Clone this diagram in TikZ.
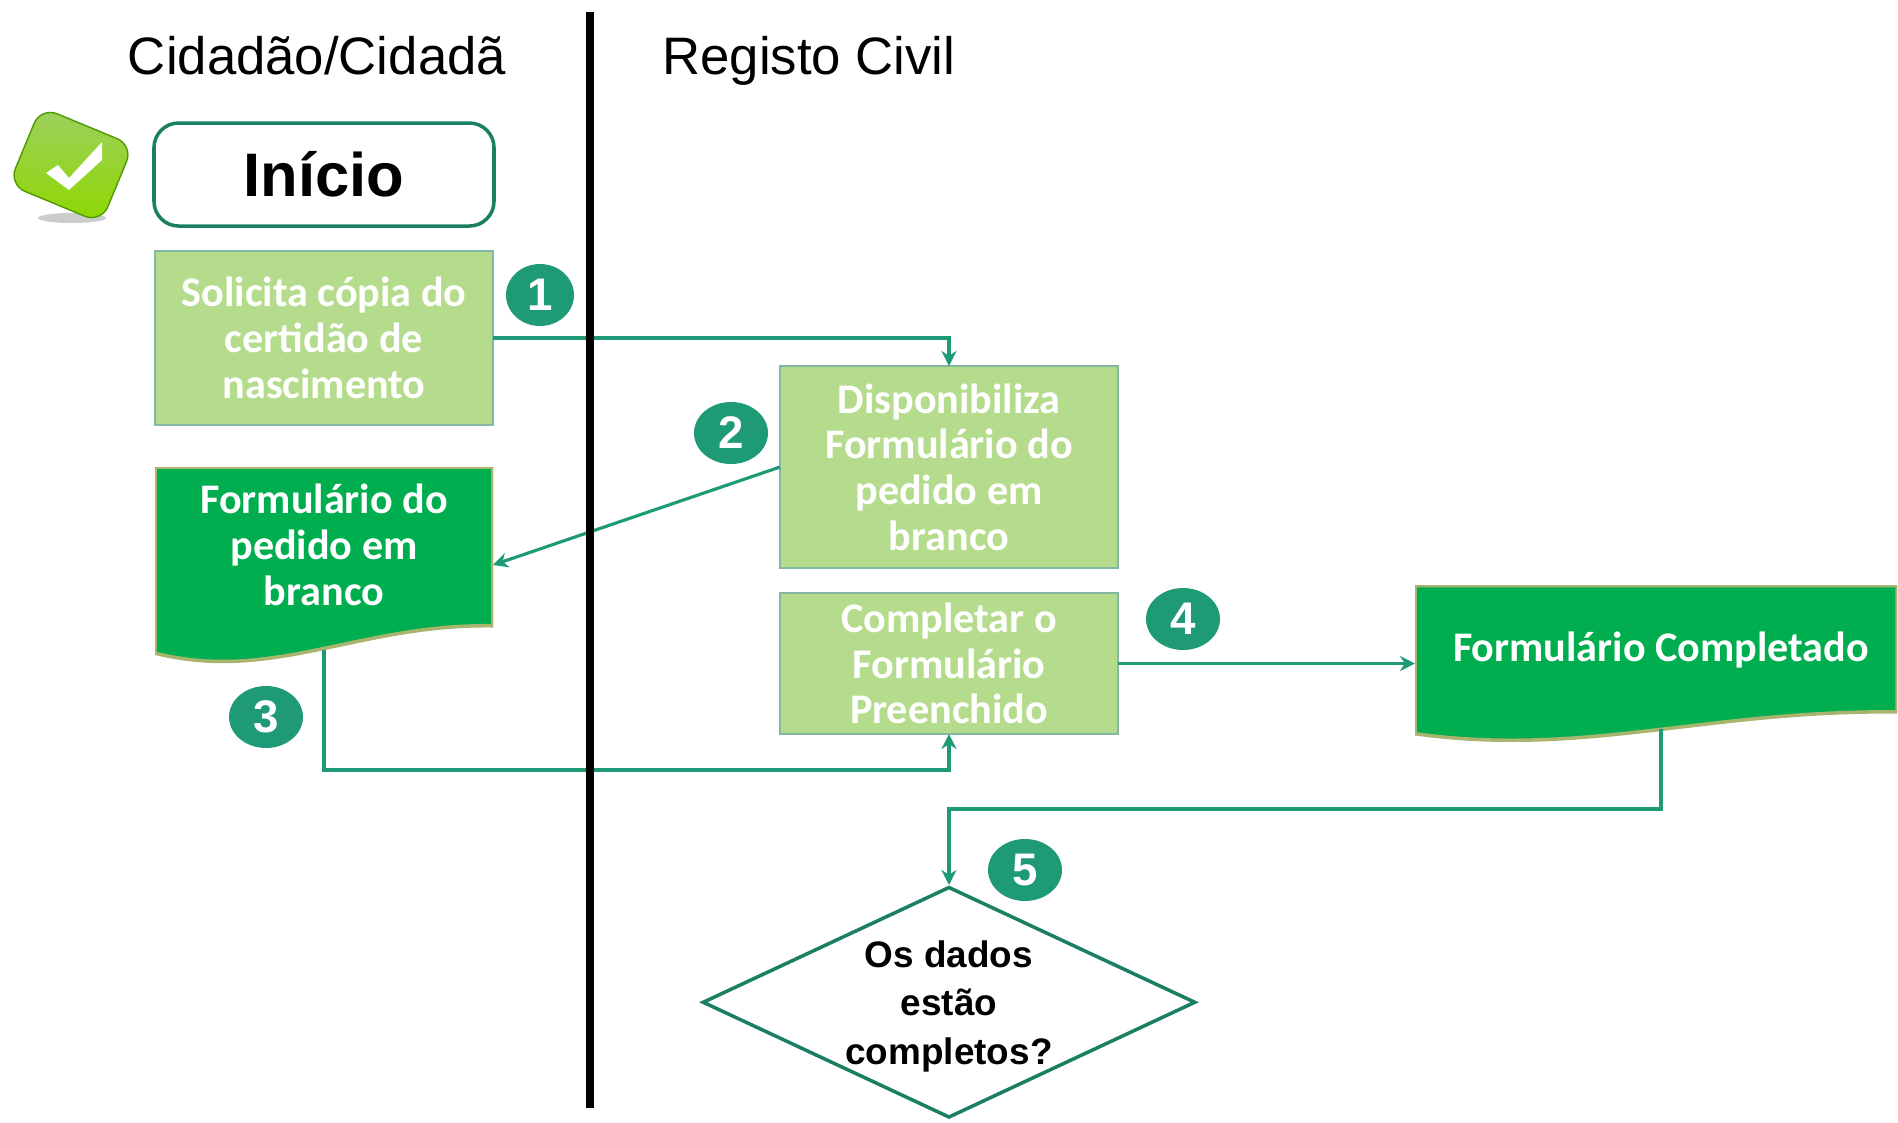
\documentclass[tikz,border=0pt]{standalone}
\usepackage{fontspec}
\setmainfont{Liberation Sans}
\newfontfamily\boxfont{Carlito}
\usetikzlibrary{shapes.geometric, arrows.meta, positioning, calc}
\definecolor{LaneTeal}{HTML}{1B7F64}
\definecolor{StepTeal}{HTML}{1F9A77}
\definecolor{BoxGreen}{HTML}{B5DC8C}
\definecolor{BoxEdge}{HTML}{85B8A2}
\definecolor{DocGreen}{HTML}{00AE4F}
\definecolor{DocEdge}{HTML}{A9B56E}
\definecolor{TickEdge}{HTML}{4F9A00}
\definecolor{TickTop}{HTML}{9CD060}
\definecolor{TickMid}{HTML}{66B800}
\definecolor{TickLow}{HTML}{8FD800}
\tikzset{
  lanebox/.style={draw=BoxEdge, line width=0.7pt, fill=BoxGreen, text=white, font=\boxfont\bfseries\fontsize{12}{13}\selectfont,
    text width=3.38cm, minimum height=1.74cm, align=flush center, inner sep=0pt, outer sep=0pt},
  wavebox/.style={text=white, font=\boxfont\bfseries\fontsize{12}{13}\selectfont, align=flush center, inner sep=0pt, outer sep=0pt,
    path picture={
      \draw[DocEdge, fill=DocGreen, line width=1pt]
        let \p1=(path picture bounding box.north west), \p2=(path picture bounding box.south east),
            \n1={\x2-\x1}, \n2={\y2-\y1} in
        (\x1,\y1) -- (\x2,\y1) -- (\x2,\y1+0.81*\n2)
        .. controls (\x1+0.6*\n1,\y1+0.8*\n2) and (\x1+0.35*\n1,\y1+1.1*\n2) .. (\x1,\y1+0.95*\n2) -- cycle;
    }},
  stepmark/.style={ellipse, fill=StepTeal, text=white, font=\bfseries\fontsize{13}{13}\selectfont,
    minimum width=7.4mm, minimum height=6.2mm, inner sep=0pt},
  lanetitle/.style={font=\fontsize{15}{18}\selectfont, inner sep=0pt, text height=4mm, text depth=1mm},
  conn/.style={draw=StepTeal, line width=0.9pt, -{Stealth[length=1.5mm, width=1.5mm]}}
}
\begin{document}
\begin{tikzpicture}
            \useasboundingbox (0,0) rectangle (18.98,-11.22);

            % Lane titles
            \node[lanetitle] (t1) at (3.17,-0.595) {Cidadão/Cidadã};
            \node[lanetitle] (t2) at (8.09,-0.595) {Registo Civil};

            % Tick icon
            \fill[black!20] (0.72,-2.18) ellipse (0.34 and 0.05);
            \node[rectangle, rotate=-22.5, rounded corners=5pt, minimum width=1.0cm, minimum height=0.84cm, inner sep=0pt,
                  draw=TickEdge, top color=TickTop, middle color=TickMid, bottom color=TickLow] (tick) at (0.71,-1.65) {};
            \fill[white] ($(tick.center)+(-0.25,-0.08)$) -- ++(0.23,-0.17) -- ++(0.33,0.30)
                -- ++(0,0.18) -- ++(-0.33,-0.36) -- ++(-0.11,0.13) -- cycle;

            % Left lane boxes
            \node[draw=LaneTeal, line width=1pt, rounded corners=7pt, text width=3.4cm, minimum height=1.03cm,
                  align=center, inner sep=0pt, outer sep=0pt, font=\bfseries\fontsize{17.5}{20}\selectfont] (b0) at (3.24,-1.745) {Início};

            \node[lanebox, below=2.5mm of b0] (b1) {
                Solicita cópia do\\
                certidão de\\
                nascimento
            };

            \node[wavebox, text width=3.38cm, minimum height=1.96cm, text depth=13.2mm, below=4.2mm of b1] (d1) {
                Formulário do\\
                pedido em\\
                branco
            };

            % Right lane boxes
            \node[lanebox, minimum height=2.02cm] (b2) at (9.49,-4.67) {
                Disponibiliza\\
                Formulário do\\
                pedido em\\
                branco
            };

            \node[lanebox, minimum height=1.41cm, below=2.5mm of b2] (b3) {
                Completar o\\
                Formulário\\
                Preenchido
            };

            \node[wavebox, text width=4.82cm, minimum height=1.56cm, text depth=3.4mm, right=29.7mm of b3] (d2) {\hspace*{1mm}Formulário Completado};

            \node[diamond, shape aspect=2.116, draw=LaneTeal, line width=1pt, minimum width=4.93cm, minimum height=2.31cm, inner sep=-0.5mm,
                  align=center, font=\bfseries\fontsize{10.5}{13.8}\selectfont, below=15.1mm of b3] (q1) {
                \rule{0pt}{9.8pt}Os dados\\
                estão\\
                completos?
            };

            % Step numbers
            \node[stepmark, minimum width=6.8mm] (n1) at (5.40,-2.95) {1};
            \node[stepmark] (n2) at (7.31,-4.33) {2};
            \node[stepmark] (n3) at (2.66,-7.17) {3};
            \node[stepmark] (n4) at (11.83,-6.19) {4};
            \node[stepmark] (n5) at (10.25,-8.70) {5};

            % Connectors
            \coordinate[below=3.6mm of b3] (c3);
            \coordinate[above=7.6mm of q1] (c5);
            \draw[conn] (b1.east) -| (b2.north);
            \draw[conn] (b2.west) -- (d1.east);
            \draw[conn] ([yshift=1.3mm]d1.south) |- (c3) -- (b3.south);
            \draw[conn] (b3.east) -- (d2.west);
            \draw[conn] ([xshift=0.5mm,yshift=1.3mm]d2.south) |- (c5) -- (q1.north);

            % Lane divider
            \coordinate (l1) at (5.90,-0.12);
            \coordinate (l2) at (5.90,-11.08);
            \draw[black, line width=2pt] (l1) -- (l2);
        \end{tikzpicture}
\end{document}
